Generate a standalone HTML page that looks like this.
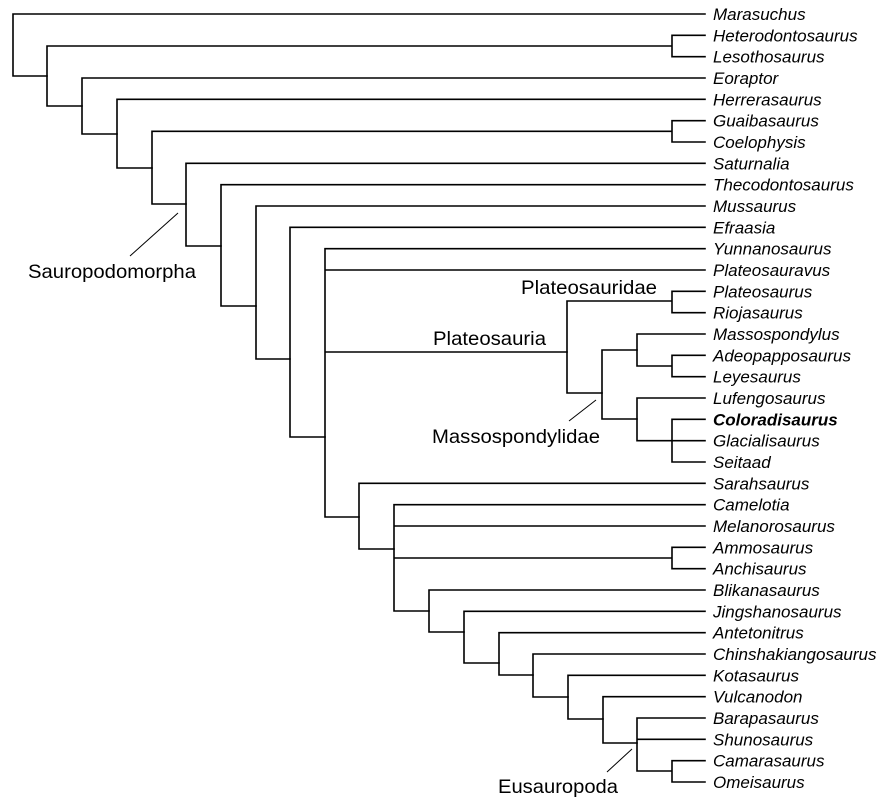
<!DOCTYPE html>
<html><head><meta charset="utf-8"><style>
html,body{margin:0;padding:0;background:#fff;}
svg{display:block;}
.t{font-family:"Liberation Sans",Arial,sans-serif;font-size:17px;font-style:italic;fill:#000;}
.c{font-family:"Liberation Sans",Arial,sans-serif;font-size:19.5px;fill:#000;}
</style></head><body>
<svg width="890" height="812" viewBox="0 0 890 812" xmlns="http://www.w3.org/2000/svg">
<g stroke="#000" stroke-width="1.6" fill="none" stroke-linecap="square">
<!-- root -->
<path d="M13 14V76H47 M13 14H705"/>
<path d="M47 46V106H82 M47 46H672 M672 35.3V56.7 M672 35.3H705 M672 56.7H705"/>
<path d="M82 78V134H117 M82 78H705"/>
<path d="M117 99.3V168H152 M117 99.3H705"/>
<path d="M152 131.3V204H186 M152 131.3H672 M672 120.7V142 M672 120.7H705 M672 142H705"/>
<path d="M186 163.3V246H221 M186 163.3H705"/>
<path d="M221 184.7V306H256 M221 184.7H705"/>
<path d="M256 206V359H290 M256 206H705"/>
<path d="M290 227.3V437H325 M290 227.3H705"/>
<path d="M325 248.7V517H359 M325 248.7H705 M325 270H705 M325 352H567"/>
<!-- Plateosauria -->
<path d="M567 301V393H602 M567 301H672 M672 291.3V312.7 M672 291.3H705 M672 312.7H705"/>
<path d="M602 350V419H637 M602 350H637"/>
<path d="M637 334V366H672 M637 334H705 M672 355.3V376.7 M672 355.3H705 M672 376.7H705"/>
<path d="M637 398V440.7H705 M637 398H705 M672 419.3V462 M672 419.3H705 M672 462H705"/>
<!-- Sauropoda side -->
<path d="M359 483.3V549H394 M359 483.3H705"/>
<path d="M394 504.7V611H429 M394 504.7H705 M394 526H705 M394 558H672 M672 547.3V568.7 M672 547.3H705 M672 568.7H705"/>
<path d="M429 590V632H464 M429 590H705"/>
<path d="M464 611.3V663H499 M464 611.3H705"/>
<path d="M499 632.7V675H533 M499 632.7H705"/>
<path d="M533 654V697H568 M533 654H705"/>
<path d="M568 675.3V719H603 M568 675.3H705"/>
<path d="M603 696.7V743H637 M603 696.7H705"/>
<path d="M637 718V771H672 M637 718H705 M637 739.3H705 M672 760.7V782 M672 760.7H705 M672 782H705"/>
</g>
<g stroke="#000" stroke-width="1">
<line x1="178" y1="213" x2="130" y2="256"/>
<line x1="596" y1="400" x2="569" y2="421"/>
<line x1="632" y1="749" x2="607" y2="772"/>
</g>
<text class="c" x="28" y="278" textLength="168" lengthAdjust="spacingAndGlyphs">Sauropodomorpha</text>
<text class="c" x="521" y="294" textLength="136" lengthAdjust="spacingAndGlyphs">Plateosauridae</text>
<text class="c" x="433" y="345" textLength="113" lengthAdjust="spacingAndGlyphs">Plateosauria</text>
<text class="c" x="432" y="443" textLength="168" lengthAdjust="spacingAndGlyphs">Massospondylidae</text>
<text class="c" x="498" y="793" textLength="120" lengthAdjust="spacingAndGlyphs">Eusauropoda</text>
<g class="t">
<text x="713" y="20">Marasuchus</text>
<text x="713" y="41.3">Heterodontosaurus</text>
<text x="713" y="62.7">Lesothosaurus</text>
<text x="713" y="84">Eoraptor</text>
<text x="713" y="105.3">Herrerasaurus</text>
<text x="713" y="126.7">Guaibasaurus</text>
<text x="713" y="148">Coelophysis</text>
<text x="713" y="169.3">Saturnalia</text>
<text x="713" y="190.7">Thecodontosaurus</text>
<text x="713" y="212">Mussaurus</text>
<text x="713" y="233.3">Efraasia</text>
<text x="713" y="254.7">Yunnanosaurus</text>
<text x="713" y="276">Plateosauravus</text>
<text x="713" y="297.3">Plateosaurus</text>
<text x="713" y="318.7">Riojasaurus</text>
<text x="713" y="340">Massospondylus</text>
<text x="713" y="361.3">Adeopapposaurus</text>
<text x="713" y="382.7">Leyesaurus</text>
<text x="713" y="404">Lufengosaurus</text>
<text x="713" y="425.3" font-weight="bold">Coloradisaurus</text>
<text x="713" y="446.7">Glacialisaurus</text>
<text x="713" y="468">Seitaad</text>
<text x="713" y="489.3">Sarahsaurus</text>
<text x="713" y="510.7">Camelotia</text>
<text x="713" y="532">Melanorosaurus</text>
<text x="713" y="553.3">Ammosaurus</text>
<text x="713" y="574.7">Anchisaurus</text>
<text x="713" y="596">Blikanasaurus</text>
<text x="713" y="617.3">Jingshanosaurus</text>
<text x="713" y="638.7">Antetonitrus</text>
<text x="713" y="660">Chinshakiangosaurus</text>
<text x="713" y="681.3">Kotasaurus</text>
<text x="713" y="702.7">Vulcanodon</text>
<text x="713" y="724">Barapasaurus</text>
<text x="713" y="745.3">Shunosaurus</text>
<text x="713" y="766.7">Camarasaurus</text>
<text x="713" y="788">Omeisaurus</text>
</g>
</svg>
</body></html>
